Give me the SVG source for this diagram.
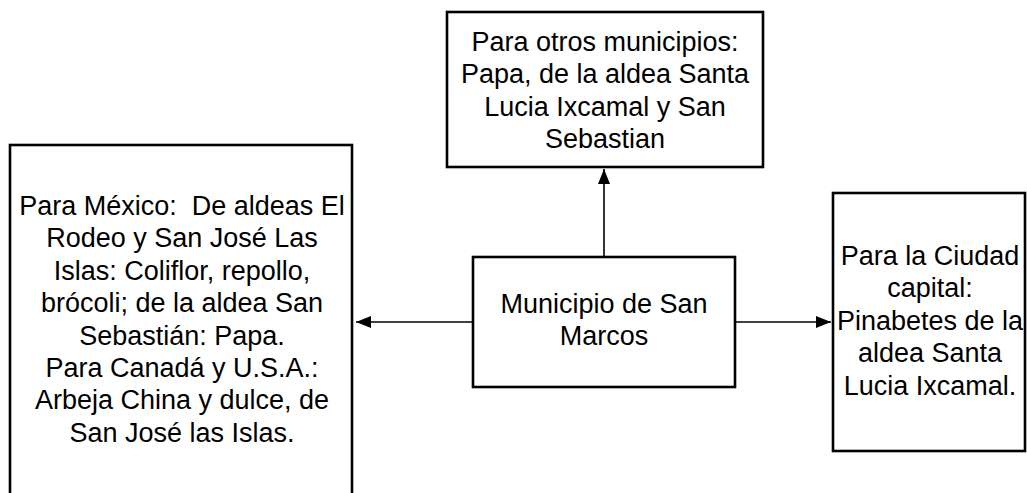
<svg xmlns="http://www.w3.org/2000/svg" width="1027" height="493" viewBox="0 0 1027 493">
<style>
.box{fill:#fff;stroke:#000;stroke-width:2.6}
.t{font-family:"Liberation Sans",Arial,sans-serif;font-size:27px;fill:#000;text-anchor:middle}
.c{stroke:#000;stroke-width:1.6;fill:none}
</style>
<defs>
<marker id="ah" markerUnits="userSpaceOnUse" markerWidth="15" markerHeight="12" refX="15" refY="6" orient="auto">
<path d="M0,0 L15,6 L0,12 z" fill="#000"/>
</marker>
</defs>
<rect width="1027" height="493" fill="#fff"/>
<g id="connectors">
<line class="c" x1="604" y1="257" x2="604" y2="169" marker-end="url(#ah)"/>
<line class="c" x1="473" y1="322" x2="356" y2="322" marker-end="url(#ah)"/>
<line class="c" x1="735" y1="322" x2="831" y2="322" marker-end="url(#ah)"/>
</g>
<g id="node-top">
<rect class="box" x="447" y="12" width="316" height="155"/>
<text class="t" x="605" y="51">Para otros municipios:</text>
<text class="t" x="605" y="83.4">Papa, de la aldea Santa</text>
<text class="t" x="605" y="115.8">Lucia Ixcamal y San</text>
<text class="t" x="605" y="148.2">Sebastian</text>
</g>
<g id="node-left">
<rect class="box" x="10" y="145" width="342" height="370"/>
<text class="t" x="182" y="215" xml:space="preserve">Para México:  De aldeas El</text>
<text class="t" x="182" y="247.4">Rodeo y San José Las</text>
<text class="t" x="182" y="279.8">Islas: Coliflor, repollo,</text>
<text class="t" x="182" y="312.2">brócoli; de la aldea San</text>
<text class="t" x="182" y="344.6">Sebastián: Papa.</text>
<text class="t" x="182" y="377">Para Canadá y U.S.A.:</text>
<text class="t" x="182" y="409.4">Arbeja China y dulce, de</text>
<text class="t" x="182" y="441.8">San José las Islas.</text>
</g>
<g id="node-center">
<rect class="box" x="473" y="257" width="262" height="130"/>
<text class="t" x="604" y="313">Municipio de San</text>
<text class="t" x="604" y="345.4">Marcos</text>
</g>
<g id="node-right">
<rect class="box" x="833" y="193" width="192" height="258"/>
<text class="t" x="930" y="265">Para la Ciudad</text>
<text class="t" x="930" y="297.4">capital:</text>
<text class="t" x="930" y="329.8">Pinabetes de la</text>
<text class="t" x="930" y="362.2">aldea Santa</text>
<text class="t" x="930" y="394.6">Lucia Ixcamal.</text>
</g>
</svg>
